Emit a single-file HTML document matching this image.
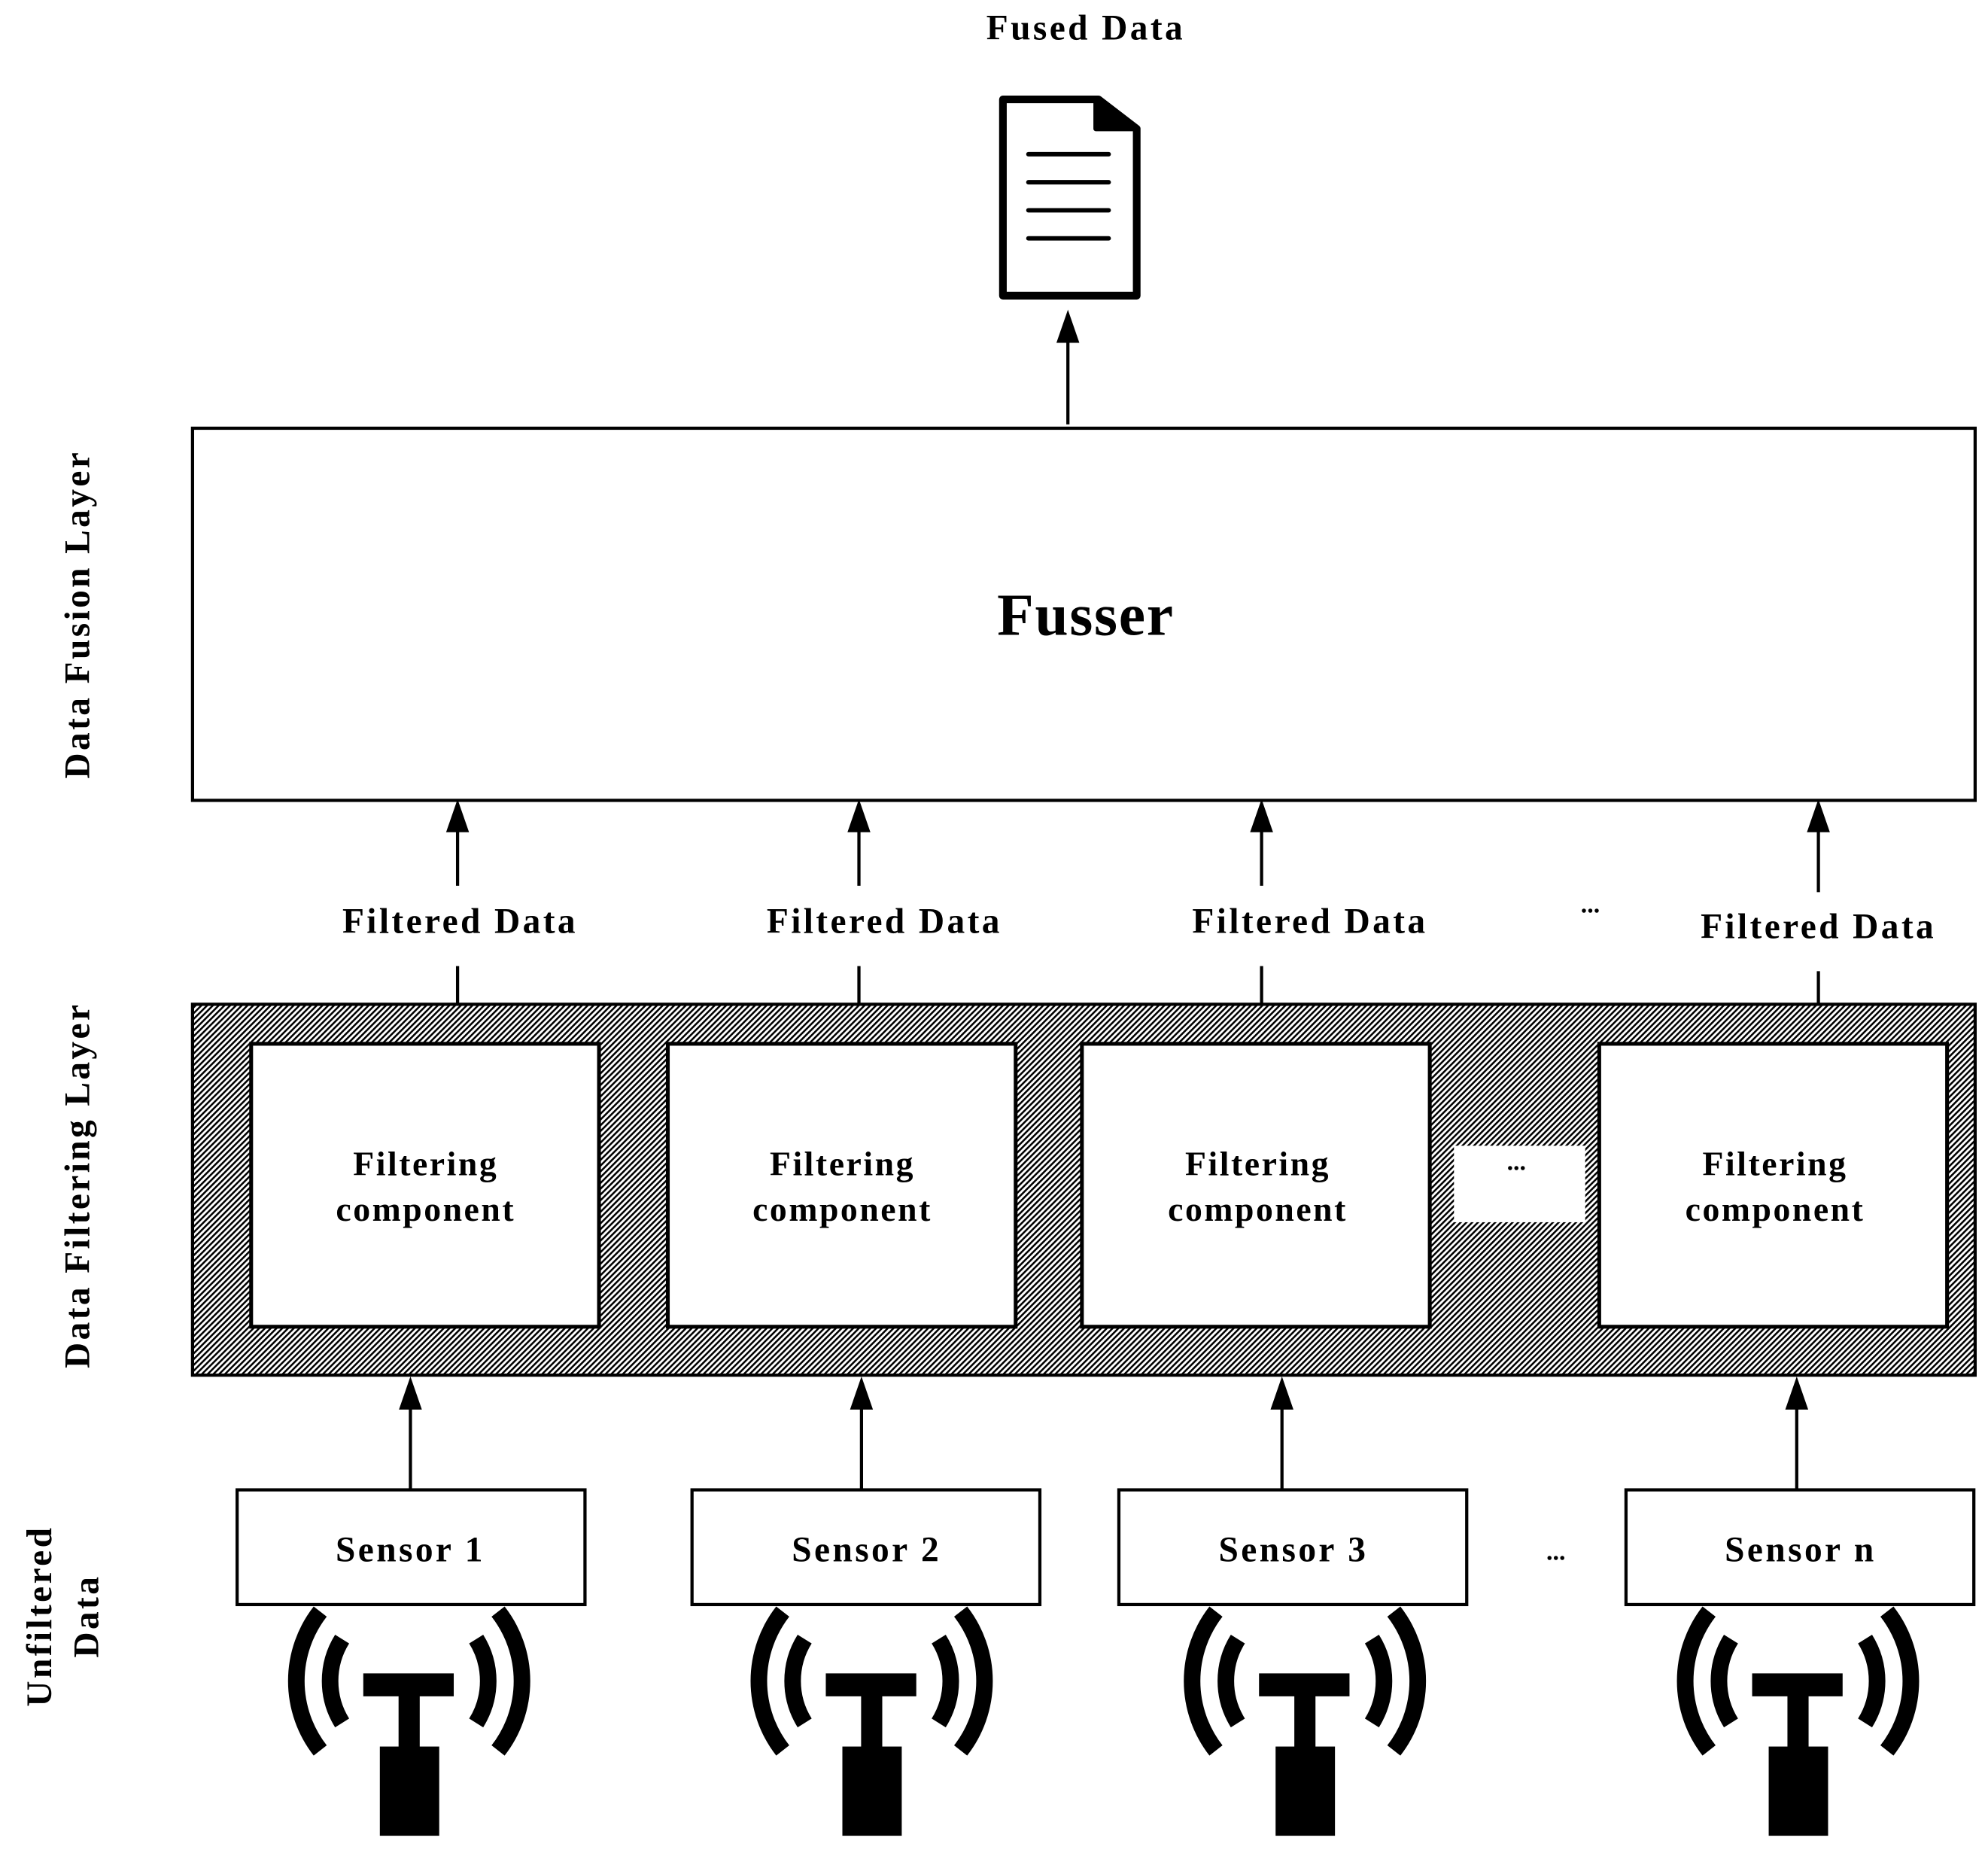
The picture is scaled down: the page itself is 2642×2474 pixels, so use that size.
<!DOCTYPE html>
<html><head><meta charset="utf-8"><style>
html,body{margin:0;padding:0;background:#fff}
svg{display:block}
text{font-family:"Liberation Serif",serif;font-weight:bold;fill:#000}
</style></head><body>
<svg width="2642" height="2474" viewBox="0 0 1560 1461" xmlns="http://www.w3.org/2000/svg">
<defs>
<pattern id="h" width="3.2" height="3.2" patternUnits="userSpaceOnUse" patternTransform="rotate(45)">
<rect width="3.2" height="3.2" fill="#fff"/>
<rect width="1.5" height="3.2" fill="#000"/>
</pattern>
<g id="ant">
<rect x="-36" y="-6" width="71" height="18" fill="#000"/>
<rect x="-8.3" y="11" width="16.6" height="41" fill="#000"/>
<rect x="-23" y="51.4" width="46.6" height="70" fill="#000"/>
<path d="M -69.8 -54.5 A 88.6 88.6 0 0 0 -69.8 54.5" fill="none" stroke="#000" stroke-width="13"/>
<path d="M 69.8 -54.5 A 88.6 88.6 0 0 1 69.8 54.5" fill="none" stroke="#000" stroke-width="13"/>
<path d="M -52.6 -32.9 A 62 62 0 0 0 -52.6 32.9" fill="none" stroke="#000" stroke-width="13"/>
<path d="M 52.6 -32.9 A 62 62 0 0 1 52.6 32.9" fill="none" stroke="#000" stroke-width="13"/>
</g>
</defs>

<text x="852" y="31" font-size="28" letter-spacing="2" text-anchor="middle">Fused Data</text>
<!-- document -->
<path d="M787 78 L862 78 L892 101 L892 232 L787 232 Z" fill="#fff" stroke="#000" stroke-width="6" stroke-linejoin="round"/>
<path d="M860 78 L892 101 L860 101 Z" fill="#000" stroke="#000" stroke-width="4" stroke-linejoin="round"/>
<g stroke="#000" stroke-width="3.5" stroke-linecap="round">
<line x1="807" y1="121" x2="870" y2="121"/><line x1="807" y1="143" x2="870" y2="143"/>
<line x1="807" y1="165" x2="870" y2="165"/><line x1="807" y1="187" x2="870" y2="187"/>
</g>
<line x1="838" y1="333" x2="838" y2="265" stroke="#000" stroke-width="2.5"/>
<polygon points="838,243 829,269 847,269" fill="#000"/>

<rect x="151" y="336" width="1399" height="292" fill="#fff" stroke="#000" stroke-width="2.5"/>
<text x="852" y="498" font-size="47" letter-spacing="1" text-anchor="middle">Fusser</text>

<g font-size="28" letter-spacing="2" text-anchor="middle">
<text transform="translate(70,482) rotate(-90)">Data Fusion Layer</text>
<text transform="translate(70,930) rotate(-90)">Data Filtering Layer</text>
<text transform="translate(40,1268) rotate(-90)">Unfiltered</text>
<text transform="translate(77,1268) rotate(-90)">Data</text>
</g>

<g stroke="#000" stroke-width="2.5">
<line x1="359" y1="695" x2="359" y2="650"/><line x1="674" y1="695" x2="674" y2="650"/>
<line x1="990" y1="695" x2="990" y2="650"/><line x1="1427" y1="700" x2="1427" y2="650"/>
<line x1="359" y1="758" x2="359" y2="788"/><line x1="674" y1="758" x2="674" y2="788"/>
<line x1="990" y1="758" x2="990" y2="788"/><line x1="1427" y1="762" x2="1427" y2="788"/>
</g>
<g fill="#000">
<polygon points="359,627 350,653 368,653"/><polygon points="674,627 665,653 683,653"/>
<polygon points="990,627 981,653 999,653"/><polygon points="1427,627 1418,653 1436,653"/>
</g>
<g font-size="28" letter-spacing="2" text-anchor="middle">
<text x="361" y="732">Filtered Data</text><text x="694" y="732">Filtered Data</text>
<text x="1028" y="732">Filtered Data</text><text x="1427" y="736">Filtered Data</text>
<text x="1248" y="716" font-size="20" letter-spacing="0">...</text>
</g>

<rect x="151" y="788" width="1399" height="291" fill="url(#h)" stroke="#000" stroke-width="2.5"/>
<g fill="#fff" stroke="#000" stroke-width="3">
<rect x="197" y="819" width="273" height="222"/><rect x="524" y="819" width="273" height="222"/>
<rect x="849" y="819" width="273" height="222"/><rect x="1255" y="819" width="273" height="222"/>
</g>
<rect x="1141" y="899" width="103" height="60" fill="#fff"/>
<g font-size="27" letter-spacing="1.5" text-anchor="middle">
<text x="334" y="922">Filtering</text><text x="334" y="958">component</text>
<text x="661" y="922">Filtering</text><text x="661" y="958">component</text>
<text x="987" y="922">Filtering</text><text x="987" y="958">component</text>
<text x="1393" y="922">Filtering</text><text x="1393" y="958">component</text>
<text x="1190" y="918" font-size="20" letter-spacing="0">...</text>
</g>

<g stroke="#000" stroke-width="2.5">
<line x1="322" y1="1168" x2="322" y2="1100"/><line x1="676" y1="1168" x2="676" y2="1100"/>
<line x1="1006" y1="1168" x2="1006" y2="1100"/><line x1="1410" y1="1168" x2="1410" y2="1100"/>
</g>
<g fill="#000">
<polygon points="322,1080 313,1106 331,1106"/><polygon points="676,1080 667,1106 685,1106"/>
<polygon points="1006,1080 997,1106 1015,1106"/><polygon points="1410,1080 1401,1106 1419,1106"/>
</g>
<g fill="#fff" stroke="#000" stroke-width="2.5">
<rect x="186" y="1169" width="273" height="90"/><rect x="543" y="1169" width="273" height="90"/>
<rect x="878" y="1169" width="273" height="90"/><rect x="1276" y="1169" width="273" height="90"/>
</g>
<g font-size="28" letter-spacing="2" text-anchor="middle">
<text x="322" y="1225">Sensor 1</text><text x="680" y="1225">Sensor 2</text>
<text x="1015" y="1225">Sensor 3</text><text x="1413" y="1225">Sensor n</text>
<text x="1221" y="1224" font-size="20" letter-spacing="0">...</text>
</g>

<use href="#ant" transform="translate(321,1319)"/>
<use href="#ant" transform="translate(684,1319)"/>
<use href="#ant" transform="translate(1024,1319)"/>
<use href="#ant" transform="translate(1411,1319)"/>
</svg>
</body></html>
